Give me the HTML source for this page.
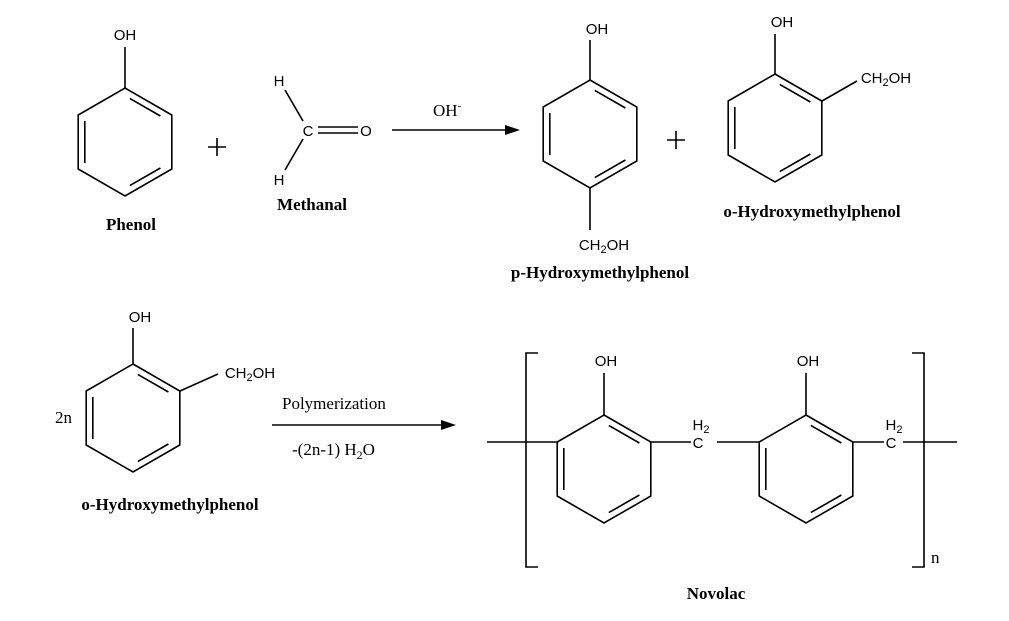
<!DOCTYPE html>
<html><head><meta charset="utf-8"><style>
body{margin:0;background:#fff}
svg{display:block}
.s{font-family:"Liberation Sans",sans-serif;font-size:15px}
.b{font-family:"Liberation Serif",serif;font-size:17px;font-weight:bold}
.r{font-family:"Liberation Serif",serif;font-size:17px}
</style></head><body>
<svg width="1009" height="621" viewBox="0 0 1009 621" xmlns="http://www.w3.org/2000/svg">
<defs>
<g id="ring" fill="none" stroke="#000" stroke-width="1.6">
<polygon points="0,-54 46.8,-27 46.8,27 0,54 -46.8,27 -46.8,-27"/>
<line x1="4.8" y1="-43.6" x2="35.4" y2="-26"/>
<line x1="-40.2" y1="-21" x2="-40.2" y2="21"/>
<line x1="35.4" y1="26" x2="4.8" y2="43.6"/>
</g>
</defs>
<g stroke="#000" stroke-width="1.6" fill="none">
<use href="#ring" x="125" y="142"/>
<line x1="125" y1="88" x2="125" y2="47"/>
<line x1="285" y1="90" x2="303" y2="121"/>
<line x1="285" y1="170" x2="303" y2="139"/>
<line x1="318" y1="127" x2="358" y2="127"/>
<line x1="318" y1="133" x2="358" y2="133"/>
<line x1="392" y1="130" x2="510" y2="130"/>
<use href="#ring" x="590" y="134"/>
<line x1="590" y1="80" x2="590" y2="40"/>
<line x1="590" y1="188" x2="590" y2="230"/>
<use href="#ring" x="775" y="128"/>
<line x1="775" y1="74" x2="775" y2="34"/>
<line x1="822" y1="101" x2="857" y2="81"/>
<use href="#ring" x="133" y="418"/>
<line x1="133" y1="364" x2="133" y2="328"/>
<line x1="180" y1="391" x2="218" y2="374"/>
<line x1="272" y1="425" x2="445" y2="425"/>
<use href="#ring" x="604" y="469"/>
<use href="#ring" x="806" y="469"/>
<line x1="604" y1="415" x2="604" y2="373"/>
<line x1="806" y1="415" x2="806" y2="373"/>
<line x1="487" y1="442" x2="557" y2="442"/>
<line x1="651" y1="442" x2="691" y2="442"/>
<line x1="717" y1="442" x2="759" y2="442"/>
<line x1="853" y1="442" x2="884" y2="442"/>
<line x1="903" y1="442" x2="957" y2="442"/>
<polyline points="538,353 526,353 526,567 538,567"/>
<polyline points="912,353 924,353 924,567 912,567"/>
<!-- plus signs -->
<line x1="208" y1="147" x2="226" y2="147"/>
<line x1="217" y1="138" x2="217" y2="156"/>
<line x1="667" y1="140" x2="685" y2="140"/>
<line x1="676" y1="131" x2="676" y2="149"/>
</g>
<polygon points="520,130 505,125 505,135" fill="#000"/>
<polygon points="456,425 441,420 441,430" fill="#000"/>
<g class="s" text-anchor="middle">
<text x="125" y="40">OH</text>
<text x="279" y="86">H</text>
<text x="308" y="136">C</text>
<text x="366" y="136">O</text>
<text x="279" y="185">H</text>
<text x="597" y="34">OH</text>
<text x="604" y="250">CH<tspan font-size="11" dy="3">2</tspan><tspan dy="-3">OH</tspan></text>
<text x="782" y="27">OH</text>
<text x="886" y="83">CH<tspan font-size="11" dy="3">2</tspan><tspan dy="-3">OH</tspan></text>
<text x="140" y="322">OH</text>
<text x="250" y="378">CH<tspan font-size="11" dy="3">2</tspan><tspan dy="-3">OH</tspan></text>
<text x="606" y="366">OH</text>
<text x="808" y="366">OH</text>
<text x="701" y="430">H<tspan font-size="11" dy="3">2</tspan></text>
<text x="698" y="448">C</text>
<text x="894" y="430">H<tspan font-size="11" dy="3">2</tspan></text>
<text x="891" y="448">C</text>
</g>
<g class="r">
<text x="433" y="116">OH<tspan font-size="11" dy="-7">-</tspan></text>
<text x="55" y="423">2n</text>
<text x="282" y="409">Polymerization</text>
<text x="292" y="455">-(2n-1) H<tspan font-size="12" dy="4">2</tspan><tspan dy="-4">O</tspan></text>
<text x="931" y="563">n</text>
</g>
<g class="b" text-anchor="middle">
<text x="131" y="230">Phenol</text>
<text x="312" y="210">Methanal</text>
<text x="600" y="278">p-Hydroxymethylphenol</text>
<text x="812" y="217">o-Hydroxymethylphenol</text>
<text x="170" y="510">o-Hydroxymethylphenol</text>
<text x="716" y="599">Novolac</text>
</g>
</svg>
</body></html>
